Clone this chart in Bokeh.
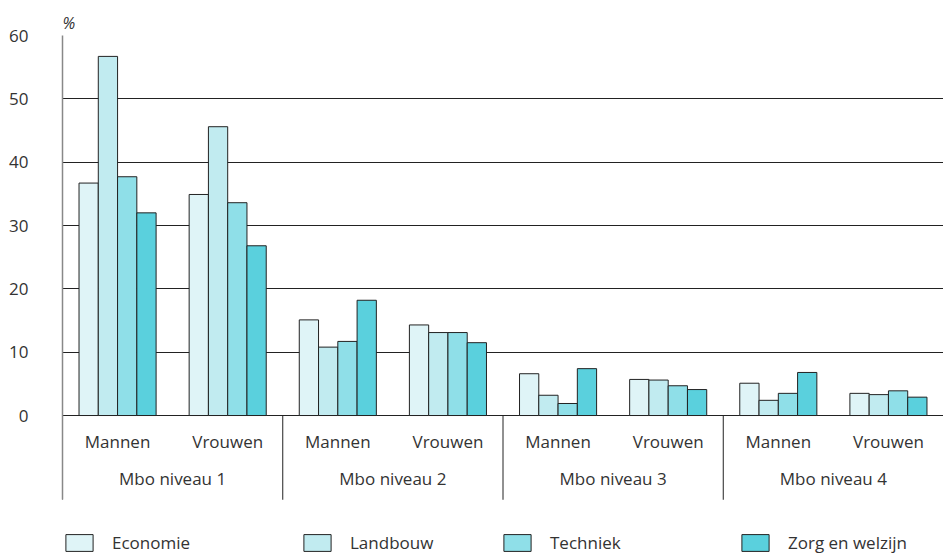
from bokeh.plotting import figure
from bokeh.models import FactorRange, ColumnDataSource, Range1d, FixedTicker, Legend, LegendItem
from bokeh.transform import dodge
from bokeh.core.properties import value
from bokeh.embed import file_html
from bokeh.resources import INLINE

levels = ["Mbo niveau 1", "Mbo niveau 2", "Mbo niveau 3", "Mbo niveau 4"]
sexes = ["Mannen", "Vrouwen"]
series = ["Economie", "Landbouw", "Techniek", "Zorg en welzijn"]
economie = [36.7, 34.9, 15.1, 14.3, 6.6, 5.7, 5.1, 3.5]
landbouw = [56.7, 45.6, 10.8, 13.1, 3.2, 5.6, 2.4, 3.3]
techniek = [37.7, 33.6, 11.7, 13.1, 1.9, 4.7, 3.5, 3.9]
zorg = [32.0, 26.8, 18.2, 11.5, 7.4, 4.1, 6.8, 2.9]
colors = ["#dff4f7", "#c1ebf0", "#8fdfe8", "#5ad0dd"]
y_ticks = [0, 10, 20, 30, 40, 50, 60]

FONT = "Open Sans"
TXT = "#333333"
FS = "17px"

factors = [(lvl, s) for lvl in levels for s in sexes]
src = ColumnDataSource(dict(x=factors, economie=economie, landbouw=landbouw,
                            techniek=techniek, zorg=zorg,
                            label=[f[1] for f in factors]))

p = figure(width=943, height=555,
           x_range=FactorRange(*factors, group_padding=0, range_padding=0),
           y_range=Range1d(-22.1, 60),
           x_axis_location=None,
           output_backend="svg", toolbar_location=None,
           min_border_left=62, min_border_right=0, min_border_top=35, min_border_bottom=0,
           title="%")
p.outline_line_color = None
p.xgrid.visible = False
p.ygrid.ticker = FixedTicker(ticks=y_ticks)
p.ygrid.grid_line_color = "#222222"
p.ygrid.grid_line_width = 1

p.yaxis.ticker = FixedTicker(ticks=y_ticks)
p.yaxis.bounds = (-13.3, 60)
p.yaxis.axis_line_color = "#888888"
p.yaxis.axis_line_width = 1.5
p.yaxis.major_tick_line_color = None
p.yaxis.minor_tick_line_color = None
p.yaxis.major_tick_out = 0
p.yaxis.major_label_standoff = 34
p.yaxis.major_label_text_font = FONT
p.yaxis.major_label_text_font_size = FS
p.yaxis.major_label_text_color = TXT

p.title.text_font = FONT
p.title.text_font_size = "16px"
p.title.text_font_style = "italic"
p.title.text_color = TXT
p.title.align = "left"
p.title.offset = 0
p.title.standoff = 4

bw = 0.175
offsets = [-1.5 * bw, -0.5 * bw, 0.5 * bw, 1.5 * bw]
cols = ["economie", "landbouw", "techniek", "zorg"]
renderers = []
for col, off, c in zip(cols, offsets, colors):
    r = p.vbar(x=dodge("x", off, range=p.x_range), top=col, width=bw, bottom=0,
               source=src, fill_color=c, line_color="#222222", line_width=1)
    renderers.append(r)

# category labels
p.text(x="x", y=-4.1, text="label", source=src, text_align="center",
       text_baseline="middle", text_font=value(FONT), text_font_size=FS,
       text_color=TXT)

grp_src = ColumnDataSource(dict(x=[(lvl, "Mannen") for lvl in levels], label=levels))
p.text(x=dodge("x", 0.5, range=p.x_range), y=-10.0, text="label", source=grp_src,
       text_align="center", text_baseline="middle", text_font=value(FONT),
       text_font_size=FS, text_color=TXT)
p.segment(x0=dodge("x", -0.5, range=p.x_range), y0=0,
          x1=dodge("x", -0.5, range=p.x_range), y1=-13.3,
          source=grp_src, line_color="#222222", line_width=1)

def make_legend(items, loc):
    lg = Legend(items=items, location=loc, orientation="horizontal",
                glyph_width=34, glyph_height=21, label_standoff=16,
                label_width=188, label_height=21, spacing=0, padding=0, margin=0,
                border_line_color=None, background_fill_alpha=0,
                label_text_font=FONT, label_text_font_size=FS,
                label_text_color=TXT)
    return lg

l1 = make_legend([LegendItem(label=series[0], renderers=[renderers[0]]),
                  LegendItem(label=series[1], renderers=[renderers[1]])], (0, 1))
l2 = make_legend([LegendItem(label=series[2], renderers=[renderers[2]]),
                  LegendItem(label=series[3], renderers=[renderers[3]])], (438, 1))
p.add_layout(l1)
p.add_layout(l2)

open("out.html", "w").write(file_html(p, INLINE))
